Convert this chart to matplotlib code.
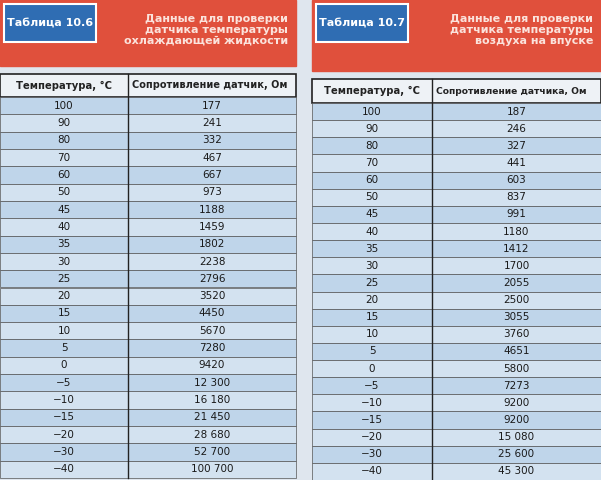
import matplotlib
matplotlib.use("Agg")
import matplotlib.pyplot as plt
from matplotlib.patches import Rectangle

temps = ["100","90","80","70","60","50","45","40","35","30","25","20","15","10","5","0",
         "\u22125","\u221210","\u221215","\u221220","\u221230","\u221240"]
res_coolant = ["177","241","332","467","667","973","1188","1459","1802","2238","2796","3520",
               "4450","5670","7280","9420","12 300","16 180","21 450","28 680","52 700","100 700"]
res_air = ["187","246","327","441","603","837","991","1180","1412","1700","2055","2500",
           "3055","3760","4651","5800","7273","9200","9200","15 080","25 600","45 300"]

W, H = 601, 480
fig = plt.figure(figsize=(W/100, H/100), dpi=100)
ax = fig.add_axes([0, 0, 1, 1])
ax.set_xlim(0, W); ax.set_ylim(H, 0); ax.axis("off")
fig.patch.set_facecolor("#dfe6ee")

def panel(x0, x1, xdiv, label, title, header2, values, hy0, hy1, rbot, hfs):
    ax.add_patch(Rectangle((x0, 0), x1-x0, hy0-8, color="#e0503c", zorder=1))
    ax.add_patch(Rectangle((x0+4, 4), 92, 38, color="#2f6db3", ec="white", lw=1.5, zorder=2))
    ax.text(x0+50, 23, label, color="white", fontsize=8, fontweight="bold",
            ha="center", va="center", zorder=3)
    ax.text(x1-8, 30, title, color="#fbe3dc", fontsize=8, fontweight="bold",
            ha="right", va="center", linespacing=1.1, zorder=3)
    ax.add_patch(Rectangle((x0, hy0), x1-x0, hy1-hy0, fc="#eef2f6", ec="#222", lw=1.2, zorder=1))
    ax.text((x0+xdiv)/2, (hy0+hy1)/2, "Температура, °C", fontsize=7.2, fontweight="bold",
            ha="center", va="center", color="#222")
    ax.text(xdiv+4, (hy0+hy1)/2, header2, fontsize=hfs, fontweight="bold",
            ha="left", va="center", color="#222")
    n = len(values)
    rh = (rbot-hy1)/n
    for i, (t, v) in enumerate(zip(temps, values)):
        y = hy1 + i*rh
        ax.add_patch(Rectangle((x0, y), x1-x0, rh,
                     fc="#bfd5ea" if i % 2 == 0 else "#d3e2f0", ec="#555", lw=0.5, zorder=1))
        ax.text((x0+xdiv)/2, y+rh/2, t, fontsize=7.5, ha="center", va="center", color="#1a1a1a")
        ax.text((xdiv+x1)/2, y+rh/2, v, fontsize=7.5, ha="center", va="center", color="#1a1a1a")
    ax.plot([xdiv, xdiv], [hy0, rbot], color="#222", lw=1.0, zorder=2)

panel(0, 296, 128, "Таблица 10.6", "Данные для проверки\nдатчика температуры\nохлаждающей жидкости",
      "Сопротивление датчик, Ом", res_coolant, 74, 97, 478, 7.0)
panel(312, 601, 432, "Таблица 10.7", "Данные для проверки\nдатчика температуры\nвоздуха на впуске",
      "Сопротивление датчика, Ом", res_air, 79, 103, 480, 6.6)

fig.savefig("out.png", dpi=100, facecolor=fig.get_facecolor())
